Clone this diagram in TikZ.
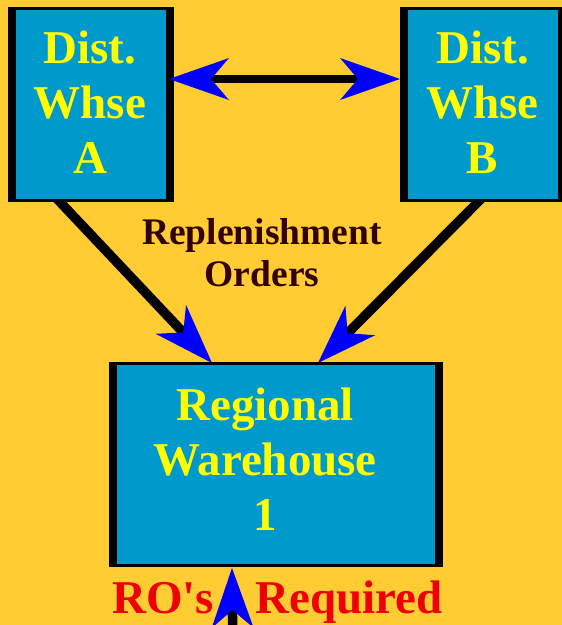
\documentclass[tikz,border=0pt]{standalone}
\usepackage{fontspec}
\setmainfont{Liberation Serif}
\newfontfamily\rofont{Liberation Serif}
\usetikzlibrary{arrows.meta,calc}
\definecolor{bgyellow}{HTML}{FFCC33}
\definecolor{boxblue}{HTML}{0099CC}
\definecolor{txtyellow}{HTML}{FFFF00}
\definecolor{tipblue}{HTML}{0000FF}
\definecolor{rored}{HTML}{EE0000}
\definecolor{darkbrown}{HTML}{330000}
\pgfdeclarelayer{bg}
\pgfdeclarelayer{under}
\pgfsetlayers{bg,under,main}
\tikzset{
  boxframe/.style={fill=black, draw=none, inner sep=0pt, outer sep=0pt},
  boxtext/.style={text=txtyellow, font=\bfseries\fontsize{47}{55}\selectfont, align=center, inner sep=0pt},
  conn/.style={line width=9.5pt, draw=black, -{Stealth[length=60pt,width=42pt,inset=18pt,color=tipblue,line width=0pt]}},
  dconn/.style={line width=8pt, draw=black, {Stealth[length=60pt,width=42pt,inset=18pt,color=tipblue,line width=0pt]}-{Stealth[length=60pt,width=42pt,inset=18pt,color=tipblue,line width=0pt]}},
  labeltext/.style={text=darkbrown, font=\bfseries\fontsize{37.5}{42}\selectfont, align=center, inner sep=0pt},
  redtext/.style={text=rored, font=\rofont\bfseries\fontsize{47}{55}\selectfont, inner sep=0pt}
}
\begin{document}
\begin{tikzpicture}[x=1pt,y=-1pt]
\begin{pgfonlayer}{bg}
  \fill[bgyellow] (0,0) rectangle (562,625);
\end{pgfonlayer}
\useasboundingbox (0,0) rectangle (562,625);

% boxes
\node[boxframe, minimum width=166pt, minimum height=195pt] (A) at (91,104.5) {};
\fill[boxblue] ([xshift=8pt,yshift=-3pt]A.north west) rectangle ([xshift=-8pt,yshift=3pt]A.south east);
\node[boxframe, minimum width=166pt, minimum height=195pt] (B) at (483,104.5) {};
\fill[boxblue] ([xshift=8pt,yshift=-3pt]B.north west) rectangle ([xshift=-8pt,yshift=3pt]B.south east);
\node[boxframe, minimum width=334pt, minimum height=205pt] (R) at (276,464.5) {};
\fill[boxblue] ([xshift=8pt,yshift=-3pt]R.north west) rectangle ([xshift=-8pt,yshift=3pt]R.south east);

% texts
\node[boxtext] (At) at (90,102) {Dist.\\Whse\\A};
\node[boxtext] (Bt) at (482.5,102) {Dist.\\Whse\\B};
\node[boxtext] (Rt) at (265,459) {Regional\\Warehouse\\1};
\node[labeltext] (lbl) at (262,253) {Replenishment\\Orders};
\node[redtext, anchor=base west] (ros) at (112,613) {RO's};
\node[redtext, anchor=base west] (req) at (255,613) {Required};

% connectors
\begin{pgfonlayer}{under}
  \draw[conn] ([xshift=-40.4pt,yshift=10pt]A.south) -- ([xshift=-64pt,yshift=-1pt]R.north);
  \draw[conn] ([xshift=4.9pt,yshift=10pt]B.south) -- ([xshift=42pt,yshift=-1pt]R.north);
\end{pgfonlayer}
\draw[dconn] ([xshift=-5pt,yshift=25.5pt]A.east) -- ([yshift=25.5pt]B.west);
\coordinate (bot) at (233,665);
\draw[conn] (bot) -- ([xshift=-44pt,yshift=-1pt]R.south);
\end{tikzpicture}
\end{document}
